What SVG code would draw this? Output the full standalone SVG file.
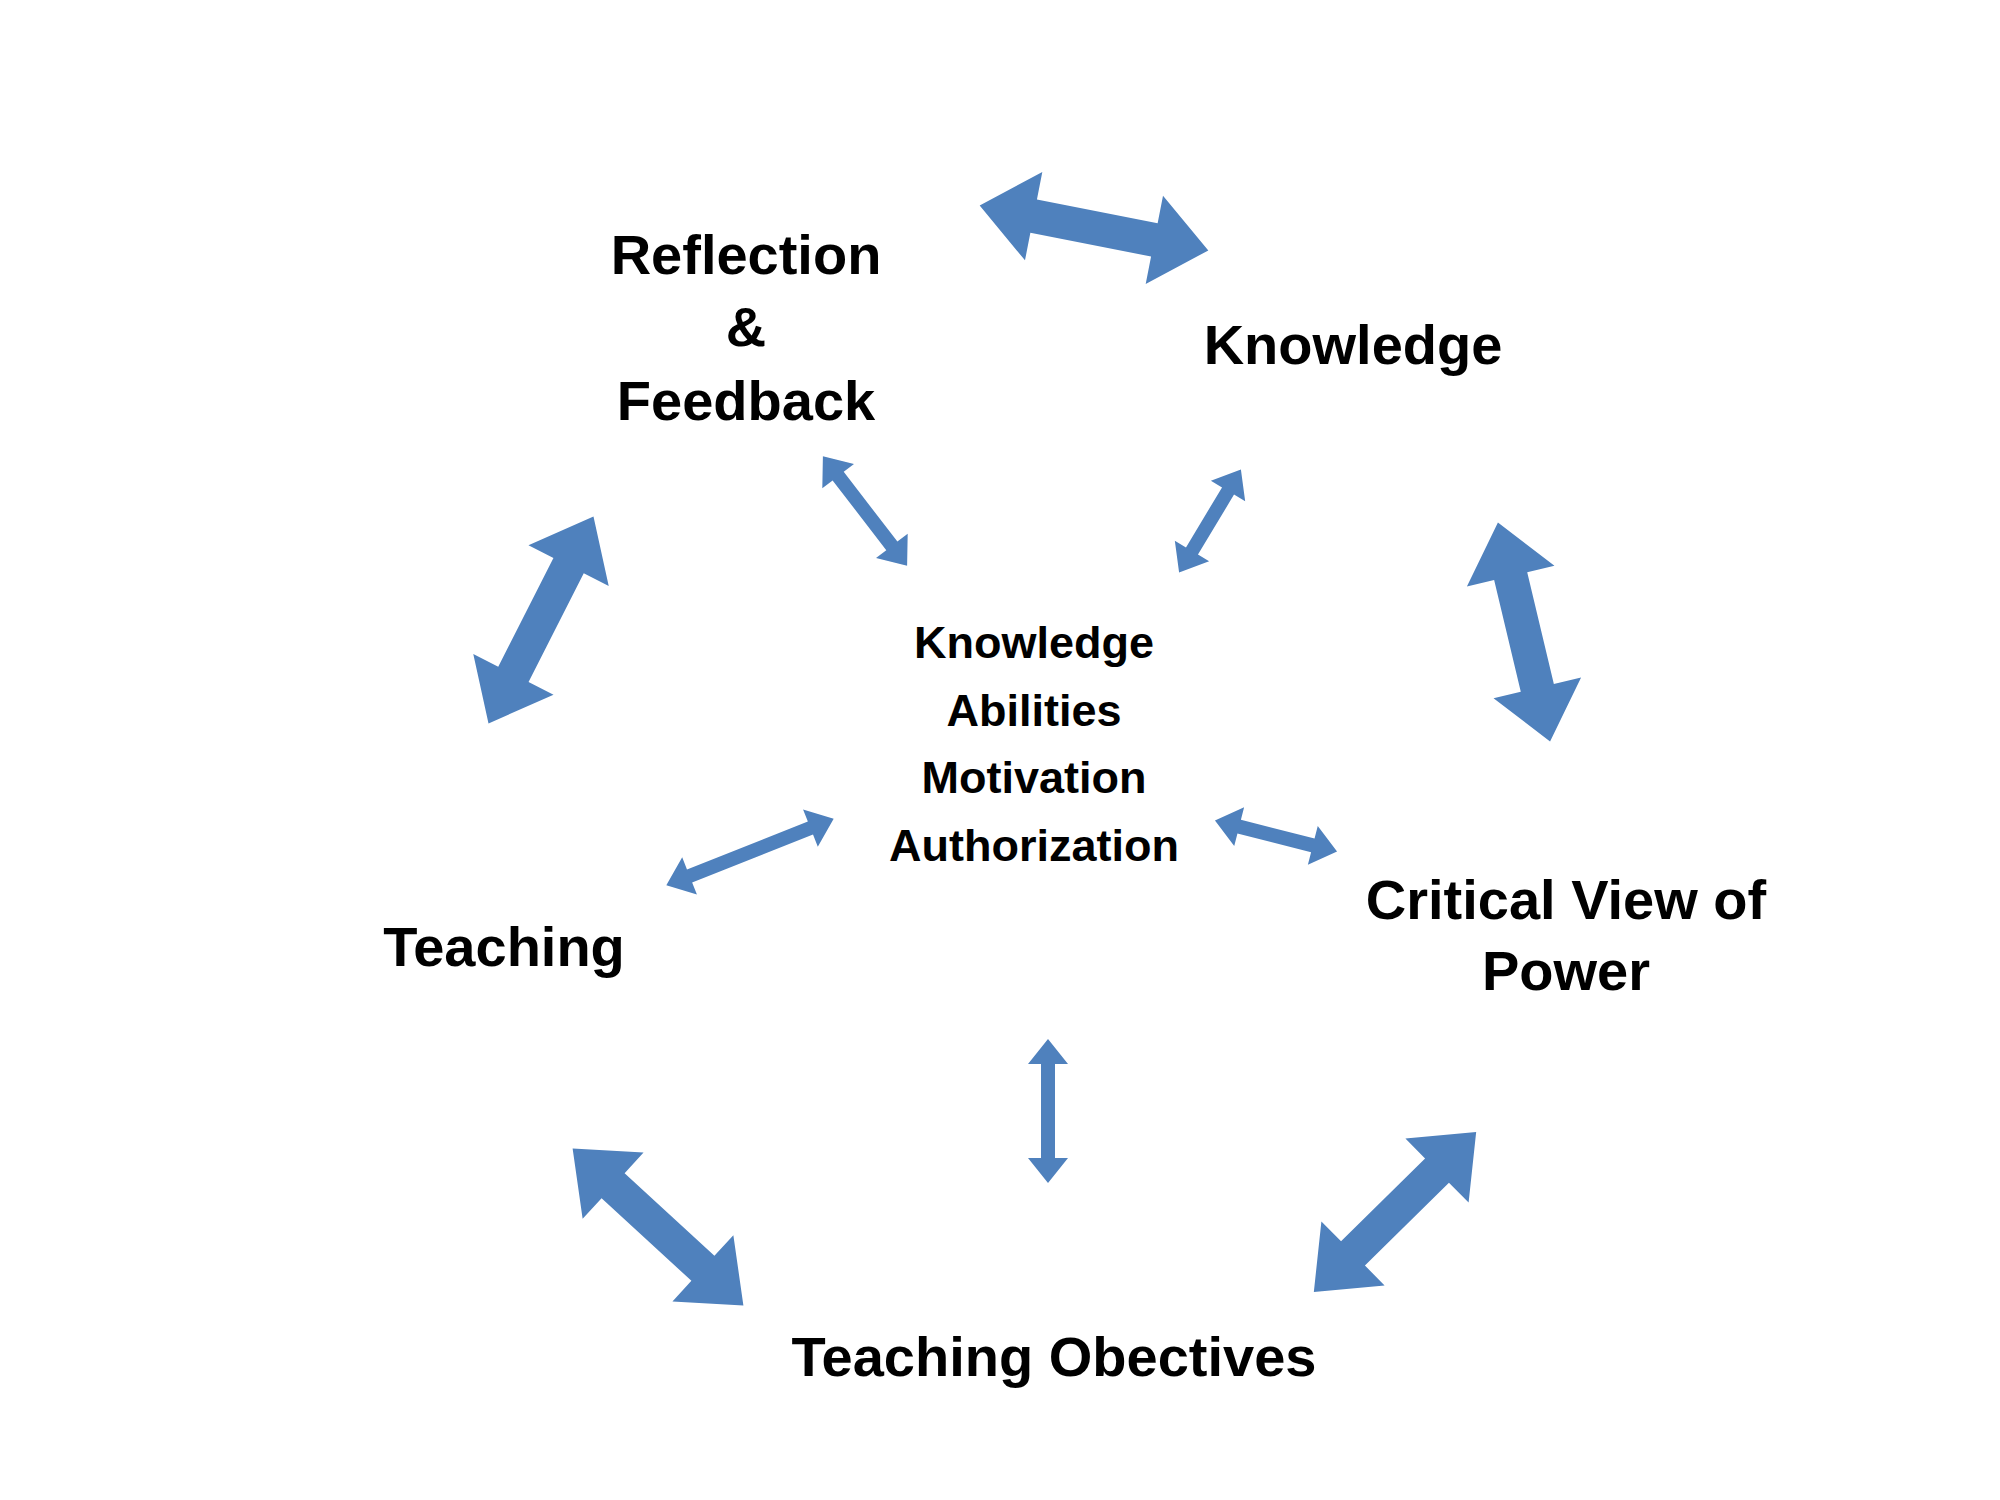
<svg xmlns="http://www.w3.org/2000/svg" width="2000" height="1500" viewBox="0 0 2000 1500">
<style>
.t{font-family:"Liberation Sans",Arial,sans-serif;font-weight:bold;fill:#000;text-anchor:middle}
.big{font-size:56px}
.mid{font-size:45px}
.a{fill:#4F81BD}
</style>
<rect width="2000" height="1500" fill="#fff"/>
<g id="connectors">
<path class="a" transform="translate(1094,228) rotate(11.1)" d="M-116.5 0L-61.5 -45L-61.5 -17L61.5 -17L61.5 -45L116.5 0L61.5 45L61.5 17L-61.5 17L-61.5 45Z"/>
<path class="a" transform="translate(541,620) rotate(-63.1)" d="M-116 0L-61 -45L-61 -17L61 -17L61 -45L116 0L61 45L61 17L-61 17L-61 45Z"/>
<path class="a" transform="translate(1524,632) rotate(76.6)" d="M-112.5 0L-57.5 -45L-57.5 -17L57.5 -17L57.5 -45L112.5 0L57.5 45L57.5 17L-57.5 17L-57.5 45Z"/>
<path class="a" transform="translate(658,1227) rotate(42.6)" d="M-116 0L-61 -45L-61 -17L61 -17L61 -45L116 0L61 45L61 17L-61 17L-61 45Z"/>
<path class="a" transform="translate(1395,1212) rotate(135.4)" d="M-114 0L-59 -45L-59 -17L59 -17L59 -45L114 0L59 45L59 17L-59 17L-59 45Z"/>
<path class="a" transform="translate(865,511) rotate(52.4)" d="M-69 0L-44 -20L-44 -7L44 -7L44 -20L69 0L44 20L44 7L-44 7L-44 20Z"/>
<path class="a" transform="translate(1210,521) rotate(121)" d="M-60 0L-35 -20L-35 -7L35 -7L35 -20L60 0L35 20L35 7L-35 7L-35 20Z"/>
<path class="a" transform="translate(750,852) rotate(-21.6)" d="M-90 0L-65 -20L-65 -7L65 -7L65 -20L90 0L65 20L65 7L-65 7L-65 20Z"/>
<path class="a" transform="translate(1276,836) rotate(14.3)" d="M-63 0L-38 -20L-38 -7L38 -7L38 -20L63 0L38 20L38 7L-38 7L-38 20Z"/>
<path class="a" transform="translate(1048,1111) rotate(90)" d="M-72 0L-47 -20L-47 -7L47 -7L47 -20L72 0L47 20L47 7L-47 7L-47 20Z"/>
</g>
<g id="reflection"><text class="t big" x="746" y="274">Reflection</text><text class="t big" x="746" y="346">&amp;</text><text class="t big" x="746" y="420">Feedback</text></g>
<g id="knowledge"><text class="t big" x="1353" y="364">Knowledge</text></g>
<g id="center"><text class="t mid" x="1034" y="658">Knowledge</text><text class="t mid" x="1034" y="726">Abilities</text><text class="t mid" x="1034" y="793">Motivation</text><text class="t mid" x="1034" y="861">Authorization</text></g>
<g id="teaching"><text class="t big" x="504" y="966">Teaching</text></g>
<g id="critical"><text class="t big" x="1566" y="919">Critical View of</text><text class="t big" x="1566" y="990">Power</text></g>
<g id="objectives"><text class="t big" x="1054" y="1376">Teaching Obectives</text></g>
</svg>
